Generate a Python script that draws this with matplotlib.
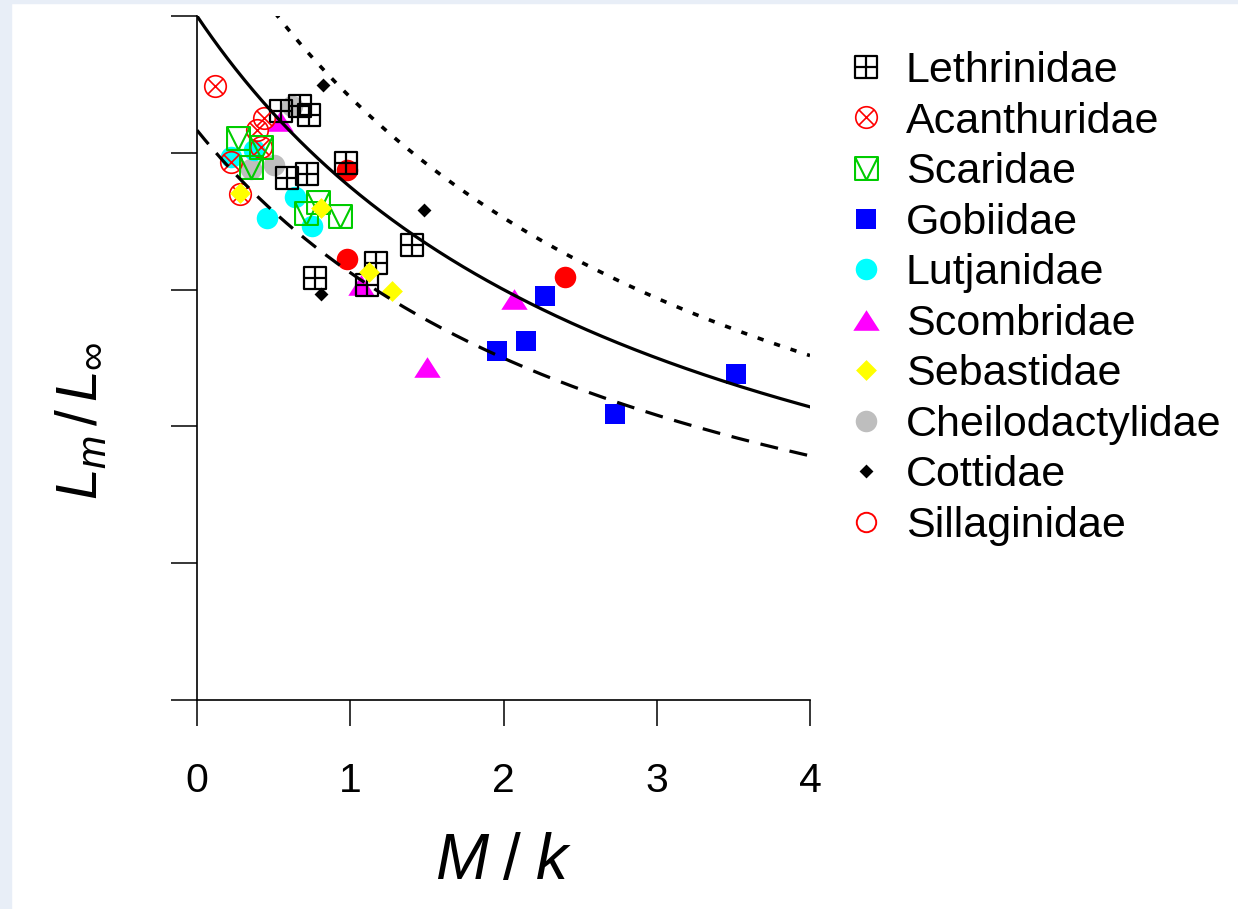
import numpy as np
import matplotlib
matplotlib.use("Agg")
import matplotlib.pyplot as plt
from matplotlib.path import Path
from matplotlib.lines import Line2D
from matplotlib.patches import Rectangle

plt.rcParams["font.family"] = ["Liberation Sans", "DejaVu Sans"]
plt.rcParams["mathtext.fontset"] = "custom"
plt.rcParams["mathtext.it"] = "Liberation Sans:italic"
plt.rcParams["mathtext.rm"] = "Liberation Sans"
plt.rcParams["lines.scale_dashes"] = False

# ---- data: M/k and Lm/Linf per family ----
leth_x = [0.55, 0.67, 0.73, 0.97, 0.59, 0.72, 1.40, 1.17, 0.77, 1.11]
leth_y = [0.861, 0.868, 0.855, 0.785, 0.763, 0.769, 0.665, 0.639, 0.617, 0.607]

acan_x = [0.12, 0.44, 0.39, 0.42, 0.22, 0.28]
acan_y = [0.898, 0.851, 0.833, 0.808, 0.787, 0.740]

scar_x = [0.27, 0.42, 0.35, 0.71, 0.79, 0.93]
scar_y = [0.822, 0.808, 0.779, 0.712, 0.728, 0.708]

gobi_x = [1.96, 2.15, 2.27, 2.73, 3.52]
gobi_y = [0.510, 0.525, 0.591, 0.418, 0.477]

lutj_x = [0.22, 0.37, 0.64, 0.46, 0.75]
lutj_y = [0.794, 0.804, 0.735, 0.705, 0.693]

scom_x = [0.54, 1.07, 1.50, 2.07]
scom_y = [0.846, 0.607, 0.487, 0.586]

seba_x = [0.28, 0.81, 1.12, 1.27]
seba_y = [0.741, 0.719, 0.626, 0.598]

chei_x = [0.62, 0.50, 0.35]
chei_y = [0.868, 0.782, 0.776]

cott_x = [0.82, 1.48, 0.81]
cott_y = [0.899, 0.716, 0.594]

sill_x = [0.98, 0.98, 2.40]
sill_y = [0.775, 0.645, 0.618]

families = ["Lethrinidae", "Acanthuridae", "Scaridae", "Gobiidae", "Lutjanidae",
            "Scombridae", "Sebastidae", "Cheilodactylidae", "Cottidae", "Sillaginidae"]

# Beverton-Holt style curve Lm/Linf = 3 / (3 + M/k) and its bounds
curve_a = 3.0
lower_factor = 0.833
upper_factor = 1.175
xticks = [0, 1, 2, 3, 4]

# ---- custom marker paths ----
def square_plus():
    verts = [(-1, -1), (1, -1), (1, 1), (-1, 1), (-1, -1),
             (0, -1), (0, 1), (-1, 0), (1, 0)]
    codes = [Path.MOVETO, Path.LINETO, Path.LINETO, Path.LINETO, Path.CLOSEPOLY,
             Path.MOVETO, Path.LINETO, Path.MOVETO, Path.LINETO]
    return Path(verts, codes)

def square_v():
    verts = [(-1, -1), (1, -1), (1, 1), (-1, 1), (-1, -1),
             (-1, 1), (0, -1), (1, 1)]
    codes = [Path.MOVETO, Path.LINETO, Path.LINETO, Path.LINETO, Path.CLOSEPOLY,
             Path.MOVETO, Path.LINETO, Path.LINETO]
    return Path(verts, codes)

def circle_x():
    c = Path.unit_circle()
    d = 0.7071
    cross = Path([(-d, -d), (d, d), (-d, d), (d, -d)],
                 [Path.MOVETO, Path.LINETO, Path.MOVETO, Path.LINETO])
    return Path.make_compound_path(c, cross)

triangle = Path([(-1, -0.78), (1, -0.78), (0, 0.78), (-1, -0.78)],
                [Path.MOVETO, Path.LINETO, Path.LINETO, Path.CLOSEPOLY])
diamond = Path([(0, 1), (1, 0), (0, -1), (-1, 0), (0, 1)],
               [Path.MOVETO, Path.LINETO, Path.LINETO, Path.LINETO, Path.CLOSEPOLY])

styles = {
    "Lethrinidae": dict(marker=square_plus(), ms=16.5, mfc="none", mec="black", mew=1.6),
    "Acanthuridae": dict(marker=circle_x(), ms=15.5, mfc="none", mec="red", mew=1.2),
    "Scaridae": dict(marker=square_v(), ms=16.5, mfc="none", mec="#00cc00", mew=1.5),
    "Gobiidae": dict(marker="s", ms=14.5, mfc="blue", mec="blue", mew=0),
    "Lutjanidae": dict(marker="o", ms=15.5, mfc="cyan", mec="cyan", mew=0),
    "Scombridae": dict(marker=triangle, ms=19, mfc="magenta", mec="magenta", mew=0),
    "Sebastidae": dict(marker=diamond, ms=15, mfc="yellow", mec="yellow", mew=0),
    "Cheilodactylidae": dict(marker="o", ms=15.5, mfc="#bebebe", mec="#bebebe", mew=0),
    "Cottidae": dict(marker=diamond, ms=10, mfc="black", mec="black", mew=0),
    "Sillaginidae": dict(marker="o", ms=15.5, mfc="red", mec="red", mew=0),
}

data = {
    "Lethrinidae": (leth_x, leth_y), "Acanthuridae": (acan_x, acan_y),
    "Scaridae": (scar_x, scar_y), "Gobiidae": (gobi_x, gobi_y),
    "Lutjanidae": (lutj_x, lutj_y), "Scombridae": (scom_x, scom_y),
    "Sebastidae": (seba_x, seba_y), "Cheilodactylidae": (chei_x, chei_y),
    "Cottidae": (cott_x, cott_y), "Sillaginidae": (sill_x, sill_y),
}

W, H = 1238, 909
fig = plt.figure(figsize=(W / 100, H / 100), dpi=100)
fig.patch.set_facecolor("white")
edge = "#e8eef7"
fig.patches.append(Rectangle((0, 0), 11 / W, 1, transform=fig.transFigure, color=edge, zorder=-5))
fig.patches.append(Rectangle((0, 1 - 3 / H), 1, 3 / H, transform=fig.transFigure, color=edge, zorder=-5))

x0, x1, y0, y1 = 197, 810, 16, 700
ax = fig.add_axes([x0 / W, (H - y1) / H, (x1 - x0) / W, (y1 - y0) / H])

# filled markers first, open markers above them
draw_order = ["Sillaginidae", "Cheilodactylidae", "Lutjanidae", "Gobiidae", "Scombridae",
              "Cottidae", "Lethrinidae", "Acanthuridae", "Scaridae", "Sebastidae"]
for z, fam in enumerate(draw_order):
    xs, ys = data[fam]
    ax.plot(xs, ys, linestyle="none", zorder=2 + z * 0.01, **styles[fam])

xx = np.linspace(0, 4, 400)
base = curve_a / (curve_a + xx)
ax.plot(xx, base, color="black", lw=2.3, zorder=5)
ax.plot(xx, lower_factor * base, color="black", lw=2.3, dashes=(13, 8.5), zorder=5)
ax.plot(xx, upper_factor * base, color="black", lw=2.6, dashes=(4.5, 8), zorder=5)

ax.set_xlim(0, 4)
ax.set_ylim(0, 1)
ax.set_xticks(xticks)
ax.set_xticklabels([str(t) for t in xticks])
ax.set_yticks([0, 0.2, 0.4, 0.6, 0.8, 1.0])
ax.set_yticklabels([])
for s in ("top", "right"):
    ax.spines[s].set_visible(False)
for s in ("left", "bottom"):
    ax.spines[s].set_linewidth(1.2)
ax.tick_params(direction="out", length=18.5, width=1.1, labelsize=29.5, pad=26)
ax.patch.set_alpha(0)

ax.set_xlabel(r"$M\;/\;k$", fontsize=46, va="center")
ax.xaxis.set_label_coords(0.5, (y1 - 862) / (y1 - y0))
ax.set_ylabel(r"$L_m\,/\,L_{\infty}$", fontsize=41, va="center", ha="center")
ax.yaxis.set_label_coords((82 - x0) / (x1 - x0), (y1 - 421) / (y1 - y0))

# legend handles
handles = []
for fam in families:
    st = dict(styles[fam])
    if fam == "Sillaginidae":
        st.update(mfc="none", mec="red", mew=1.4, ms=14)
    handles.append(Line2D([], [], linestyle="none", **st))
fig.legend(handles, families, loc="upper left",
           bbox_to_anchor=(849 / W, 1 - 51 / H), bbox_transform=fig.transFigure,
           frameon=False, fontsize=31, numpoints=1, handlelength=0.8,
           handletextpad=0.52, labelspacing=0.245, borderpad=0, borderaxespad=0)

fig.savefig("out.png", dpi=100)
